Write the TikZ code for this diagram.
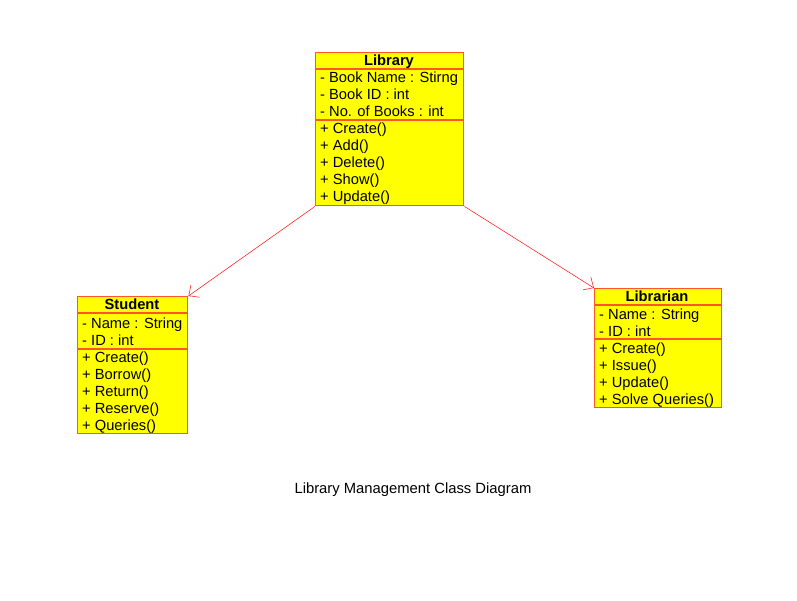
\documentclass[tikz,border=0pt]{standalone}
\usepackage{fontspec}
\setmainfont{Liberation Sans}
\usetikzlibrary{arrows.meta}
\definecolor{boxline}{RGB}{255,85,40}
\definecolor{boxfill}{RGB}{255,255,0}
\definecolor{arrowred}{RGB}{255,40,40}
\tikzset{
  classbox/.style={draw=boxline, fill=boxfill, line width=1.4pt, anchor=north west, inner sep=0pt},
  sepline/.style={draw=boxline, line width=1.4pt},
  member/.style={anchor=base west, inner sep=0pt, font=\fontsize{14.7}{17}\selectfont},
  title/.style={anchor=base, inner sep=0pt, font=\fontsize{14.7}{17}\selectfont\bfseries},
  assoc/.style={draw=arrowred, line width=0.6pt, -{Straight Barb[length=8pt,width=15pt,line width=0.6pt]}}
}
\begin{document}
\begin{tikzpicture}[x=1pt,y=-1pt]
\useasboundingbox (0,0) rectangle (797,601);
\fill[white] (0,0) rectangle (797,601);

% Library
\node[classbox, minimum width=148pt, minimum height=153pt] (lib) at (315,52) {};
\draw[sepline] (315,69) -- (463,69);
\draw[sepline] (315,120) -- (463,120);
\node[title] (libt) at (389,65.5) {Library};
\node[member] (l1) at (320,82.5) {- Book Name : Stirng};
\node[member] (l2) at (320,99.5) {- Book ID : int};
\node[member] (l3) at (320,116.5) {- No. of Books : int};
\node[member] (l4) at (320,133.5) {+ Create()};
\node[member] (l5) at (320,150.5) {+ Add()};
\node[member] (l6) at (320,167.5) {+ Delete()};
\node[member] (l7) at (320,184.5) {+ Show()};
\node[member] (l8) at (320,201.5) {+ Update()};

% Student
\node[classbox, minimum width=110pt, minimum height=137pt] (stu) at (77,296) {};
\draw[sepline] (77,313) -- (187,313);
\draw[sepline] (77,349) -- (187,349);
\node[title] (stut) at (132,309.5) {Student};
\node[member] (s1) at (82,328.5) {- Name : String};
\node[member] (s2) at (82,345.5) {- ID : int};
\node[member] (s3) at (82,362.5) {+ Create()};
\node[member] (s4) at (82,379.5) {+ Borrow()};
\node[member] (s5) at (82,396.5) {+ Return()};
\node[member] (s6) at (82,413.5) {+ Reserve()};
\node[member] (s7) at (82,430.5) {+ Queries()};

% Librarian
\node[classbox, minimum width=127pt, minimum height=119pt] (lbr) at (594,288) {};
\draw[sepline] (594,305) -- (721,305);
\draw[sepline] (594,339) -- (721,339);
\node[title] (lbrt) at (657,301.5) {Librarian};
\node[member] (b1) at (599,319.5) {- Name : String};
\node[member] (b2) at (599,336.5) {- ID : int};
\node[member] (b3) at (599,353.5) {+ Create()};
\node[member] (b4) at (599,370.5) {+ Issue()};
\node[member] (b5) at (599,387.5) {+ Update()};
\node[member] (b6) at (599,404.5) {+ Solve Queries()};

% Associations
\draw[assoc] (lib.south west) -- (stu.north east);
\draw[assoc] (lib.south east) -- (lbr.north west);

% Caption
\node[anchor=base, inner sep=0pt, font=\fontsize{14.8}{17}\selectfont] (cap) at (413,493) {Library Management Class Diagram};
\end{tikzpicture}
\end{document}
